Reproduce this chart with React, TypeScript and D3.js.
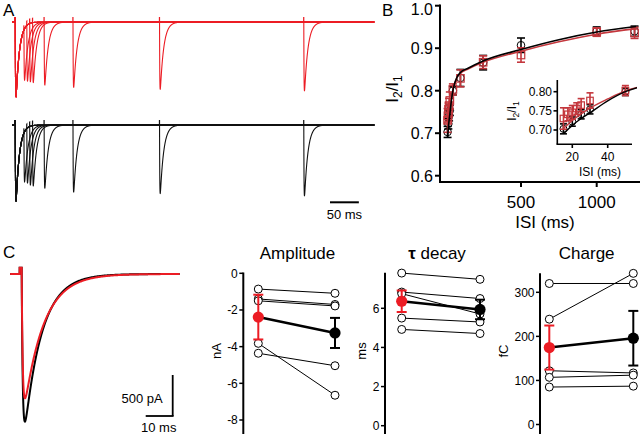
import React from "react";
import * as d3 from "d3";

const FONT = "'Liberation Sans', Arial, Helvetica, sans-serif";
const RED = "#ec1c24";
const RED_B = "#c4373d";

// ---------- Panel A : example paired-pulse sweeps ----------
const sweepISI = [15, 20, 25, 30, 50, 100, 250, 500]; // ms
const redSweepPeak2 = [0.776, 0.79, 0.8, 0.81, 0.843, 0.874, 0.9, 0.92]; // 2nd peak / 1st
const blackSweepPeak2 = [0.746, 0.763, 0.79, 0.8, 0.83, 0.88, 0.9, 0.93];

// ---------- Panel B : paired-pulse ratio ----------
const blackISI = [15, 20, 25, 30, 50, 100, 250, 500, 1000, 1250];
const blackPPR = [0.703, 0.722, 0.741, 0.754, 0.8, 0.83, 0.866, 0.907, 0.94, 0.94];
const blackSEM = [0.013, 0.012, 0.012, 0.012, 0.01, 0.02, 0.017, 0.017, 0.01, 0.012];
const redISI = [15, 17.5, 20, 22.5, 25, 30, 50, 100, 250, 500, 1000, 1250];
const redPPR = [0.73, 0.741, 0.746, 0.756, 0.765, 0.777, 0.803, 0.829, 0.867, 0.884, 0.938, 0.936];
const redSEM = [0.028, 0.017, 0.018, 0.015, 0.017, 0.02, 0.013, 0.02, 0.015, 0.017, 0.01, 0.013];
const fitISI = [15, 20, 25, 30, 40, 50, 60, 75, 100, 150, 250, 500, 750, 1000, 1260];
const blackFitPPR = [0.69, 0.712, 0.73, 0.745, 0.776, 0.8, 0.815, 0.83, 0.843, 0.853, 0.87, 0.897, 0.92, 0.938, 0.951];
const redFitPPR = [0.704, 0.725, 0.742, 0.757, 0.781, 0.802, 0.815, 0.829, 0.841, 0.851, 0.867, 0.893, 0.915, 0.933, 0.946];
const bYTicks = [0.6, 0.7, 0.8, 0.9, 1.0];
const bXTicks = [500, 1000];
const insetYTicks = [0.7, 0.75, 0.8];
const insetXTicks = [20, 40];

// ---------- Panel C ----------
const cRedAmpPA = 1516;
const cBlackAmpPA = 1800;
const cRedTau = 7.2;
const cBlackTau = 6.4;
const ampBefore = [-0.86, -1.4, -1.5, -3.82, -4.36];
const ampAfter = [-1.09, -1.7, -1.78, -6.65, -5.04];
const ampSEM = [1.22, 0.82];
const tauBefore = [7.8, 6.83, 6.75, 5.5, 4.92];
const tauAfter = [7.48, 6.5, 5.71, 5.3, 4.71];
const tauSEM = [0.55, 0.5];
const chargeBefore = [320, 239, 122, 107, 85];
const chargeAfter = [320, 343, 117, 112, 87];
const chargeSEM = [50, 62];
const conditions = ["before", "after"];

// ---------- helpers ----------
function shape(t: number, td: number, tr: number): number {
  if (t <= 0) return 0;
  const tp = ((td * tr) / (td - tr)) * Math.log(td / tr);
  const norm = Math.exp(-tp / td) - Math.exp(-tp / tr);
  return (Math.exp(-t / td) - Math.exp(-t / tr)) / norm;
}
function peakT(td: number, tr: number) {
  return ((td * tr) / (td - tr)) * Math.log(td / tr);
}
type Ev = { t: number; a: number };
function makeTrace(
  events: Ev[], td: number, tr: number, art: number, artW: number,
  t0: number, t1: number, step: number, dStep: number, dLen: number
): [number, number][] {
  const times: number[] = [];
  for (let t = t0; t <= t1; t += step) times.push(t);
  for (const e of events) {
    times.push(e.t - artW - 0.02, e.t - artW, e.t - 0.005);
    for (let k = 0; k * dStep <= dLen; k++) times.push(e.t + k * dStep);
  }
  const ts = times.filter((t) => t >= t0 && t <= t1).sort((a, b) => a - b);
  return ts.map((t) => {
    let v = 0;
    for (const e of events) {
      v -= e.a * shape(t - e.t, td, tr);
      if (t >= e.t - artW && t < e.t) v += art;
    }
    return [t, v] as [number, number];
  });
}

function PanelA() {
  const xA = d3.scaleLinear().domain([0, 500]).range([15.3, 303.8]);
  const yRed = d3.scaleLinear().domain([0, -1]).range([22, 96.7]);
  const yBlack = d3.scaleLinear().domain([0, -1]).range([125, 201]);
  const td = 6, tr = 0.4;
  const tp = peakT(td, tr);
  const mk = (peaks: number[], y: d3.ScaleLinear<number, number>) =>
    sweepISI.map((isi, i) => {
      const a2 = peaks[i] - shape(isi + tp, td, tr);
      const pts = makeTrace([{ t: 0, a: 1 }, { t: isi, a: a2 }], td, tr, 0.06, 0.25, -5.6, 623, 1, 0.1, 35);
      return d3.line<[number, number]>().x((d) => xA(d[0])).y((d) => y(d[1]))(pts) || "";
    });
  const redPaths = mk(redSweepPeak2, yRed);
  const blackPaths = mk(blackSweepPeak2, yBlack);
  const sb0 = 330;
  const sb1 = sb0 + (xA(50) - xA(0));
  return (
    <g>
      <text x={3} y={16} fontSize={17}>A</text>
      {redPaths.map((d, i) => (
        <path key={"r" + i} d={d} fill="none" stroke={RED} strokeWidth={1.1} />
      ))}
      {blackPaths.map((d, i) => (
        <path key={"b" + i} d={d} fill="none" stroke="#111" strokeWidth={1.1} />
      ))}
      <line x1={sb0} x2={sb1} y1={202.3} y2={202.3} stroke="#000" strokeWidth={2} />
      <text x={(sb0 + sb1) / 2} y={219} fontSize={13} textAnchor="middle">50 ms</text>
    </g>
  );
}

function I2I1({ x, y, size, sub }: { x: number; y: number; size: number; sub: number }) {
  return (
    <text transform={`translate(${x},${y}) rotate(-90)`} fontSize={size} textAnchor="middle">
      I<tspan fontSize={sub} dy={size * 0.25}>2</tspan>
      <tspan dy={-size * 0.25}>/I</tspan>
      <tspan fontSize={sub} dy={size * 0.25}>1</tspan>
    </text>
  );
}

function PanelB() {
  const xB = d3.scaleLinear().domain([0, 500]).range([445.3, 521]);
  const yB = d3.scaleLinear().domain([0.6, 1.0]).range([175.7, 5.7]);
  const xI = d3.scaleLinear().domain([20, 40]).range([572.3, 607.7]);
  const yI = d3.scaleLinear().domain([0.7, 0.8]).range([130, 91.7]);
  const fitLine = (xs: d3.ScaleLinear<number, number>, ys: d3.ScaleLinear<number, number>, vals: number[]) =>
    d3.line<number>().x((_, i) => xs(fitISI[i])).y((v) => ys(v)).curve(d3.curveMonotoneX)(vals) || "";

  const markers = (
    xs: d3.ScaleLinear<number, number>, ys: d3.ScaleLinear<number, number>,
    maxISI: number, cap: number, r: number, sq: number, sw: number
  ) => (
    <g>
      {blackISI.map((t, i) =>
        t <= maxISI ? (
          <g key={"bk" + i} stroke="#000" strokeWidth={sw} fill="none">
            <line x1={xs(t)} x2={xs(t)} y1={ys(blackPPR[i] - blackSEM[i])} y2={ys(blackPPR[i] + blackSEM[i])} />
            <line x1={xs(t) - cap} x2={xs(t) + cap} y1={ys(blackPPR[i] - blackSEM[i])} y2={ys(blackPPR[i] - blackSEM[i])} />
            <line x1={xs(t) - cap} x2={xs(t) + cap} y1={ys(blackPPR[i] + blackSEM[i])} y2={ys(blackPPR[i] + blackSEM[i])} />
            <circle cx={xs(t)} cy={ys(blackPPR[i])} r={r} strokeWidth={1} />
          </g>
        ) : null
      )}
      {redISI.map((t, i) =>
        t <= maxISI ? (
          <g key={"rd" + i} stroke={RED_B} strokeWidth={sw} fill="none">
            <line x1={xs(t)} x2={xs(t)} y1={ys(redPPR[i] - redSEM[i])} y2={ys(redPPR[i] + redSEM[i])} />
            <line x1={xs(t) - cap} x2={xs(t) + cap} y1={ys(redPPR[i] - redSEM[i])} y2={ys(redPPR[i] - redSEM[i])} />
            <line x1={xs(t) - cap} x2={xs(t) + cap} y1={ys(redPPR[i] + redSEM[i])} y2={ys(redPPR[i] + redSEM[i])} />
            <rect x={xs(t) - sq / 2} y={ys(redPPR[i]) - sq / 2} width={sq} height={sq} strokeWidth={1.2} />
          </g>
        ) : null
      )}
    </g>
  );

  return (
    <g>
      <defs>
        <clipPath id="insetClip">
          <rect x={557} y={60} width={80} height={90} />
        </clipPath>
        <clipPath id="mainClip">
          <rect x={440} y={0} width={200} height={185} />
        </clipPath>
      </defs>
      <text x={382} y={16} fontSize={17}>B</text>
      {/* main axes */}
      <line x1={440} x2={440} y1={4.5} y2={182} stroke="#000" strokeWidth={2} />
      <line x1={439} x2={640} y1={182} y2={182} stroke="#000" strokeWidth={2} />
      {bYTicks.map((v) => (
        <g key={v}>
          <line x1={435} x2={440} y1={yB(v)} y2={yB(v)} stroke="#000" strokeWidth={2} />
          <text x={433} y={Math.max(yB(v) + 6, 14.5)} fontSize={16} textAnchor="end">{v.toFixed(1)}</text>
        </g>
      ))}
      {bXTicks.map((v) => (
        <g key={v}>
          <line x1={xB(v)} x2={xB(v)} y1={182} y2={187} stroke="#000" strokeWidth={2} />
          <text x={xB(v)} y={208} fontSize={17} textAnchor="middle">{v}</text>
        </g>
      ))}
      <text x={545} y={228} fontSize={17} textAnchor="middle">ISI (ms)</text>
      <I2I1 x={398} y={89} size={17} sub={12} />
      <g clipPath="url(#mainClip)">
        {markers(xB, yB, 2000, 4, 3.8, 7.5, 1.6)}
        <path d={fitLine(xB, yB, redFitPPR)} fill="none" stroke={RED_B} strokeWidth={1.6} />
        <path d={fitLine(xB, yB, blackFitPPR)} fill="none" stroke="#000" strokeWidth={1.6} />
      </g>
      {/* inset */}
      <line x1={557.3} x2={557.3} y1={80} y2={144.3} stroke="#000" strokeWidth={1.6} />
      <line x1={556.5} x2={632} y1={144.3} y2={144.3} stroke="#000" strokeWidth={1.6} />
      {insetYTicks.map((v) => (
        <g key={v}>
          <line x1={553.5} x2={557.3} y1={yI(v)} y2={yI(v)} stroke="#000" strokeWidth={1.6} />
          <text x={552} y={yI(v) + 4} fontSize={12} textAnchor="end">{v.toFixed(2)}</text>
        </g>
      ))}
      {insetXTicks.map((v) => (
        <g key={v}>
          <line x1={xI(v)} x2={xI(v)} y1={144.3} y2={148} stroke="#000" strokeWidth={1.6} />
          <text x={xI(v)} y={160.5} fontSize={12} textAnchor="middle">{v}</text>
        </g>
      ))}
      <text x={600} y={175.5} fontSize={12} textAnchor="middle">ISI (ms)</text>
      <I2I1 x={516} y={111} size={12} sub={8.5} />
      <g clipPath="url(#insetClip)">
        {markers(xI, yI, 55, 3.5, 3.5, 6.5, 1.6)}
        <path d={fitLine(xI, yI, redFitPPR)} fill="none" stroke={RED_B} strokeWidth={1.4} />
        <path d={fitLine(xI, yI, blackFitPPR)} fill="none" stroke="#000" strokeWidth={1.4} />
      </g>
    </g>
  );
}

function PanelCTrace() {
  const xC = d3.scaleLinear().domain([0, 10]).range([21.7, 48.7]);
  const yC = d3.scaleLinear().domain([0, -500]).range([274, 315]);
  const tr = 0.4;
  const mk = (amp: number, td: number) => {
    const pts = makeTrace([{ t: 0, a: amp }], td, tr, 75, 0.75, -4.3, 58.6, 0.2, 0.05, 20);
    return d3.line<[number, number]>().x((d) => xC(d[0])).y((d) => yC(d[1]))(pts) || "";
  };
  const blackD = mk(cBlackAmpPA, cBlackTau);
  const redD = mk(cRedAmpPA, cRedTau);
  const sbX = 172.7;
  const sbY = 416;
  return (
    <g>
      <text x={3} y={258} fontSize={17}>C</text>
      <path d={blackD} fill="none" stroke="#000" strokeWidth={2} />
      <path d={redD} fill="none" stroke={RED} strokeWidth={2} />
      <line x1={sbX} x2={sbX} y1={sbY - (yC(-500) - yC(0))} y2={sbY} stroke="#000" strokeWidth={1.8} />
      <line x1={sbX - (xC(10) - xC(0))} x2={sbX + 0.9} y1={sbY} y2={sbY} stroke="#000" strokeWidth={1.8} />
      <text x={162.7} y={402.5} fontSize={13} textAnchor="end">500 pA</text>
      <text x={158.7} y={432} fontSize={13} textAnchor="middle">10 ms</text>
    </g>
  );
}

type PairProps = {
  axisX: number; axisTop: number; xL: number; xR: number;
  y: d3.ScaleLinear<number, number>; ticks: number[];
  before: number[]; after: number[]; sem: number[];
  title: React.ReactNode; titleX: number; unit: string; unitX: number;
};
function PairPanel(p: PairProps) {
  const xs = d3.scalePoint<string>().domain(conditions).range([p.xL, p.xR]);
  const means = [d3.mean(p.before) as number, d3.mean(p.after) as number];
  const cols = [RED, "#000"];
  return (
    <g>
      <text x={p.titleX} y={259} fontSize={17} textAnchor="middle">{p.title}</text>
      <line x1={p.axisX} x2={p.axisX} y1={p.axisTop} y2={440} stroke="#000" strokeWidth={2} />
      {p.ticks.map((v) => (
        <g key={v}>
          <line x1={p.axisX - 4} x2={p.axisX} y1={p.y(v)} y2={p.y(v)} stroke="#000" strokeWidth={1.5} />
          <text x={p.axisX - 5.5} y={p.y(v) + 4.3} fontSize={12} textAnchor="end">{v}</text>
        </g>
      ))}
      <text transform={`translate(${p.unitX},${351}) rotate(-90)`} fontSize={13} textAnchor="middle">{p.unit}</text>
      {p.before.map((b, i) => (
        <line key={"l" + i} x1={xs("before")} x2={xs("after")} y1={p.y(b)} y2={p.y(p.after[i])} stroke="#000" strokeWidth={1} />
      ))}
      {p.before.map((b, i) => (
        <circle key={"cb" + i} cx={xs("before")} cy={p.y(b)} r={4} fill="#fff" stroke="#000" strokeWidth={1} />
      ))}
      {p.after.map((a, i) => (
        <circle key={"ca" + i} cx={xs("after")} cy={p.y(a)} r={4} fill="#fff" stroke="#000" strokeWidth={1} />
      ))}
      <line x1={xs("before")} x2={xs("after")} y1={p.y(means[0])} y2={p.y(means[1])} stroke="#000" strokeWidth={2.5} />
      {conditions.map((c, i) => {
        const cx = xs(c) as number;
        const y0 = p.y(means[i] - p.sem[i]);
        const y1 = p.y(means[i] + p.sem[i]);
        return (
          <g key={c} stroke={cols[i]} strokeWidth={2}>
            <line x1={cx} x2={cx} y1={y0} y2={y1} />
            <line x1={cx - 5} x2={cx + 5} y1={y0} y2={y0} />
            <line x1={cx - 5} x2={cx + 5} y1={y1} y2={y1} />
            <circle cx={cx} cy={p.y(means[i])} r={5.6} fill={cols[i]} stroke="none" />
          </g>
        );
      })}
    </g>
  );
}

export default function App() {
  const yAmp = d3.scaleLinear().domain([0, -8]).range([273.3, 420]);
  const yTau = d3.scaleLinear().domain([0, 6]).range([425.7, 308.3]);
  const yCharge = d3.scaleLinear().domain([0, 300]).range([424.5, 292.3]);
  return (
    <svg
      width={640}
      height={434}
      style={{ position: "absolute", left: 0, top: 0, background: "#fff" }}
      fontFamily={FONT}
    >
      <rect x={0} y={0} width={640} height={434} fill="#fff" />
      <PanelA />
      <PanelB />
      <PanelCTrace />
      <PairPanel
        axisX={243.3} axisTop={272.5} xL={258.3} xR={335} y={yAmp}
        ticks={[0, -2, -4, -6, -8]} before={ampBefore} after={ampAfter} sem={ampSEM}
        title="Amplitude" titleX={297.5} unit="nA" unitX={221}
      />
      <PairPanel
        axisX={385} axisTop={272.7} xL={401.7} xR={480} y={yTau}
        ticks={[0, 2, 4, 6]} before={tauBefore} after={tauAfter} sem={tauSEM}
        title={<><tspan fontWeight="bold">τ</tspan> decay</>} titleX={437} unit="ms" unitX={366}
      />
      <PairPanel
        axisX={540} axisTop={273.3} xL={549.3} xR={633.3} y={yCharge}
        ticks={[0, 100, 200, 300]} before={chargeBefore} after={chargeAfter} sem={chargeSEM}
        title="Charge" titleX={586.7} unit="fC" unitX={508}
      />
    </svg>
  );
}
